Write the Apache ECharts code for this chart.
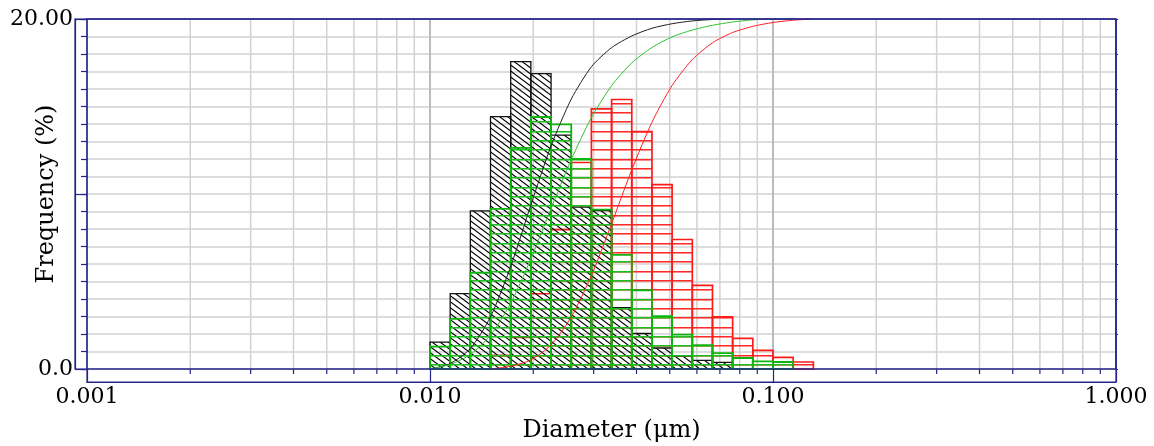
<!DOCTYPE html>
<html>
<head>
<meta charset="utf-8">
<script src="https://cdn.jsdelivr.net/npm/echarts@6/dist/echarts.min.js"></script>
<style>
html,body{margin:0;padding:0;background:#fff;}
#chart{width:1154px;height:446px;}
</style>
</head>
<body>
<div id="chart"></div>
<script>
// ---- data ----
const binEdges = [0.01000, 0.01145, 0.01311, 0.01501, 0.01719, 0.01968, 0.02254, 0.02581, 0.02955, 0.03384,
                  0.03875, 0.04437, 0.05080, 0.05817, 0.06661, 0.07627, 0.08733, 0.10000, 0.11450, 0.13111];
const blackFreq = [1.54, 4.31, 9.04, 14.42, 17.56, 16.88, 13.37, 9.25, 9.05, 3.51, 2.03, 1.20, 0.74, 0.49, 0.38];
const greenFreq = [1.28, 2.87, 5.50, 9.15, 12.64, 14.40, 13.98, 12.00, 9.11, 6.52, 4.50, 3.02, 1.96, 1.37, 0.91, 0.63, 0.44, 0.40];
const redFreq   = [0, 0, 0, 0.78, 1.80, 4.30, 7.97, 11.80, 14.87, 15.40, 13.56, 10.54, 7.40, 4.78, 2.98, 1.75, 1.06, 0.66, 0.40];
const blackCum  = [0, 0.31, 1.17, 2.98, 5.86, 9.37, 12.75, 15.42, 17.27, 18.36, 19.03, 19.47, 19.73, 19.89, 19.97, 20.00];
const greenCum  = [0, 0.26, 0.83, 1.93, 3.76, 6.29, 9.17, 11.96, 14.36, 16.19, 17.49, 18.37, 18.98, 19.37, 19.64, 19.83, 19.95, 19.99, 20.00];
const redCum    = [null, null, null, 0, 0.16, 0.52, 1.38, 2.97, 5.33, 8.30, 11.38, 14.10, 16.20, 17.68, 18.64, 19.23, 19.58, 19.80, 19.93, 20.00];
const minorGrid = [0.002, 0.003, 0.004, 0.005, 0.006, 0.007, 0.008, 0.009,
                   0.02, 0.03, 0.04, 0.05, 0.06, 0.07, 0.08, 0.09,
                   0.2, 0.3, 0.4, 0.5, 0.6, 0.7, 0.8, 0.9];
const decadeGrid = [0.01, 0.1];
const yTickLabels = {0: '0.0', 20: '20.00'};
const xTitle = 'Diameter (μm)';
const yTitle = 'Frequency (%)';

// ---- styles ----
const NAVY = '#24248c';
const FONT = 'DejaVu Serif';

function hPattern(color) {
  const c = document.createElement('canvas');
  c.width = 4; c.height = 28;
  const g = c.getContext('2d');
  g.fillStyle = color;
  [0, 9, 19].forEach(function (r) {
    g.globalAlpha = 1; g.fillRect(0, r, 4, 1);
    g.globalAlpha = 0.55; g.fillRect(0, r + 1, 4, 1);
  });
  return {image: c, repeat: 'repeat'};
}
function dPattern(color) {
  const c = document.createElement('canvas');
  c.width = 8; c.height = 6;
  const g = c.getContext('2d');
  g.strokeStyle = color; g.lineWidth = 1.1;
  g.beginPath();
  g.moveTo(-8, -6); g.lineTo(16, 12);
  g.moveTo(-8, 0); g.lineTo(8, 12);
  g.moveTo(0, -6); g.lineTo(16, 6);
  g.stroke();
  return {image: c, repeat: 'repeat'};
}

function barData(freq) {
  const out = [];
  freq.forEach(function (v, i) { if (v > 0) out.push([binEdges[i], binEdges[i + 1], v]); });
  return out;
}
function cumData(cum) {
  const out = [];
  cum.forEach(function (v, i) { if (v != null) out.push([binEdges[i], v]); });
  return out;
}
function barRender(fill, stroke, lw) {
  return function (params, api) {
    const p0 = api.coord([api.value(0), api.value(2)]);
    const p1 = api.coord([api.value(1), 0]);
    return {
      type: 'rect',
      shape: {x: p0[0], y: p0[1], width: p1[0] - p0[0], height: p1[1] - p0[1]},
      style: {fill: fill, stroke: stroke, lineWidth: lw}
    };
  };
}
function gridRender(color, width, tickLen) {
  return function (params, api) {
    const v = api.value(0);
    const t = api.coord([v, 20]);
    const b = api.coord([v, 0]);
    const ch = [{type: 'line', shape: {x1: t[0], y1: t[1], x2: b[0], y2: b[1]},
                 style: {stroke: color, lineWidth: width}}];
    if (tickLen) {
      ch.push({type: 'line', shape: {x1: b[0], y1: b[1], x2: b[0], y2: b[1] + tickLen},
               style: {stroke: NAVY, lineWidth: 1.2}});
    }
    return {type: 'group', children: ch};
  };
}

const hiddenAxis = {show: false, axisLine: {show: false}, axisTick: {show: false},
                    axisLabel: {show: false}, splitLine: {show: false}};

const chart = echarts.init(document.getElementById('chart'), null, {renderer: 'canvas'});
const option = {
  animation: false,
  backgroundColor: '#fff',
  grid: [
    // 0: data area
    {left: 87, right: 38, top: 19, bottom: 77, show: true, borderColor: NAVY, borderWidth: 1.2,
     backgroundColor: 'transparent', z: 10, containLabel: false, outerBoundsMode: 'none'},
    // 1: frame for the shifted y axis
    {left: 75, right: 38, top: 19, bottom: 77, show: true, borderColor: NAVY, borderWidth: 1.2,
     backgroundColor: 'transparent', z: 10, containLabel: false, outerBoundsMode: 'none'},
    // 2: frame for the shifted x axis
    {left: 87, right: 38, top: 19, bottom: 64, show: true, borderColor: NAVY, borderWidth: 1.2,
     backgroundColor: 'transparent', z: 10, containLabel: false, outerBoundsMode: 'none'}
  ],
  xAxis: [
    Object.assign({}, hiddenAxis, {type: 'log', logBase: 10, min: 0.001, max: 1, gridIndex: 0}),
    Object.assign({}, hiddenAxis, {type: 'value', min: 0, max: 1, gridIndex: 1}),
    {
      type: 'log', logBase: 10, min: 0.001, max: 1, gridIndex: 2, position: 'bottom', z: 10,
      name: xTitle, nameLocation: 'middle', nameGap: 37, nameMoveOverlap: false,
      nameTextStyle: {fontFamily: FONT, fontSize: 24, color: '#000', padding: [0, 0, 0, 20]},
      axisLine: {show: true, onZero: false, lineStyle: {color: NAVY, width: 1.2}},
      axisTick: {show: true, inside: true, length: 13, lineStyle: {color: NAVY, width: 1.2}},
      axisLabel: {fontFamily: FONT, fontSize: 22, color: '#000', margin: 4,
                  formatter: function (v) { return Number(v).toFixed(3); }},
      splitLine: {show: false},
      minorTick: {show: false}
    }
  ],
  yAxis: [
    {
      type: 'value', min: 0, max: 20, interval: 1, position: 'left', gridIndex: 0,
      axisLine: {show: false, onZero: false},
      axisTick: {show: true, inside: false, length: 6, lineStyle: {color: NAVY, width: 1.2}},
      axisLabel: {show: false},
      splitLine: {show: true, lineStyle: {color: '#d2d2d2', width: 1.5}}
    },
    {
      type: 'value', min: 0, max: 20, interval: 10, position: 'left', gridIndex: 1, z: 10,
      name: yTitle, nameLocation: 'middle', nameGap: 16, nameRotate: 90, nameMoveOverlap: false,
      nameTextStyle: {fontFamily: FONT, fontSize: 24, color: '#000'},
      axisLine: {show: true, onZero: false, lineStyle: {color: NAVY, width: 1.2}},
      axisTick: {show: true, inside: true, length: 12, lineStyle: {color: NAVY, width: 1.2}},
      axisLabel: {fontFamily: FONT, fontSize: 22, color: '#000', margin: 2,
                  formatter: function (v) { return yTickLabels[v] !== undefined ? yTickLabels[v] : ''; }},
      splitLine: {show: false}
    },
    Object.assign({}, hiddenAxis, {type: 'value', min: 0, max: 1, gridIndex: 2}),
    {
      type: 'value', min: 0, max: 20, interval: 2, position: 'right', gridIndex: 0,
      axisLine: {show: false, onZero: false},
      axisTick: {show: true, inside: false, length: 2, lineStyle: {color: NAVY, width: 1}},
      axisLabel: {show: false},
      splitLine: {show: false}
    }
  ],
  series: [
    {type: 'custom', name: 'minorGrid', silent: true, z: 1, clip: false,
     renderItem: gridRender('#d2d2d2', 1.5, 5), encode: {x: 0, y: 1},
     data: minorGrid.map(function (v) { return [v, 0]; })},
    {type: 'custom', name: 'decadeGrid', silent: true, z: 1, clip: false,
     renderItem: gridRender('#bcbcbc', 2, 0), encode: {x: 0, y: 1},
     data: decadeGrid.map(function (v) { return [v, 0]; })},
    {type: 'custom', name: 'red', silent: true, z: 2,
     renderItem: barRender(hPattern('#ff2a2a'), '#ff1a1a', 1.7), encode: {x: [0, 1], y: 2},
     data: barData(redFreq)},
    {type: 'custom', name: 'black', silent: true, z: 3,
     renderItem: barRender(dPattern('#000000'), '#111111', 1.3), encode: {x: [0, 1], y: 2},
     data: barData(blackFreq)},
    {type: 'custom', name: 'green', silent: true, z: 4,
     renderItem: barRender(hPattern('#1cc01c'), '#0fb40f', 1.8), encode: {x: [0, 1], y: 2},
     data: barData(greenFreq)},
    {type: 'line', name: 'blackCum', silent: true, z: 5, showSymbol: false, smooth: 0.25,
     lineStyle: {color: '#222', width: 1}, data: cumData(blackCum)},
    {type: 'line', name: 'greenCum', silent: true, z: 5, showSymbol: false, smooth: 0.25,
     lineStyle: {color: '#2fc42f', width: 1}, data: cumData(greenCum)},
    {type: 'line', name: 'redCum', silent: true, z: 5, showSymbol: false, smooth: 0.25,
     lineStyle: {color: '#ff2020', width: 1}, data: cumData(redCum)}
  ]
};
chart.setOption(option);
</script>
</body>
</html>
